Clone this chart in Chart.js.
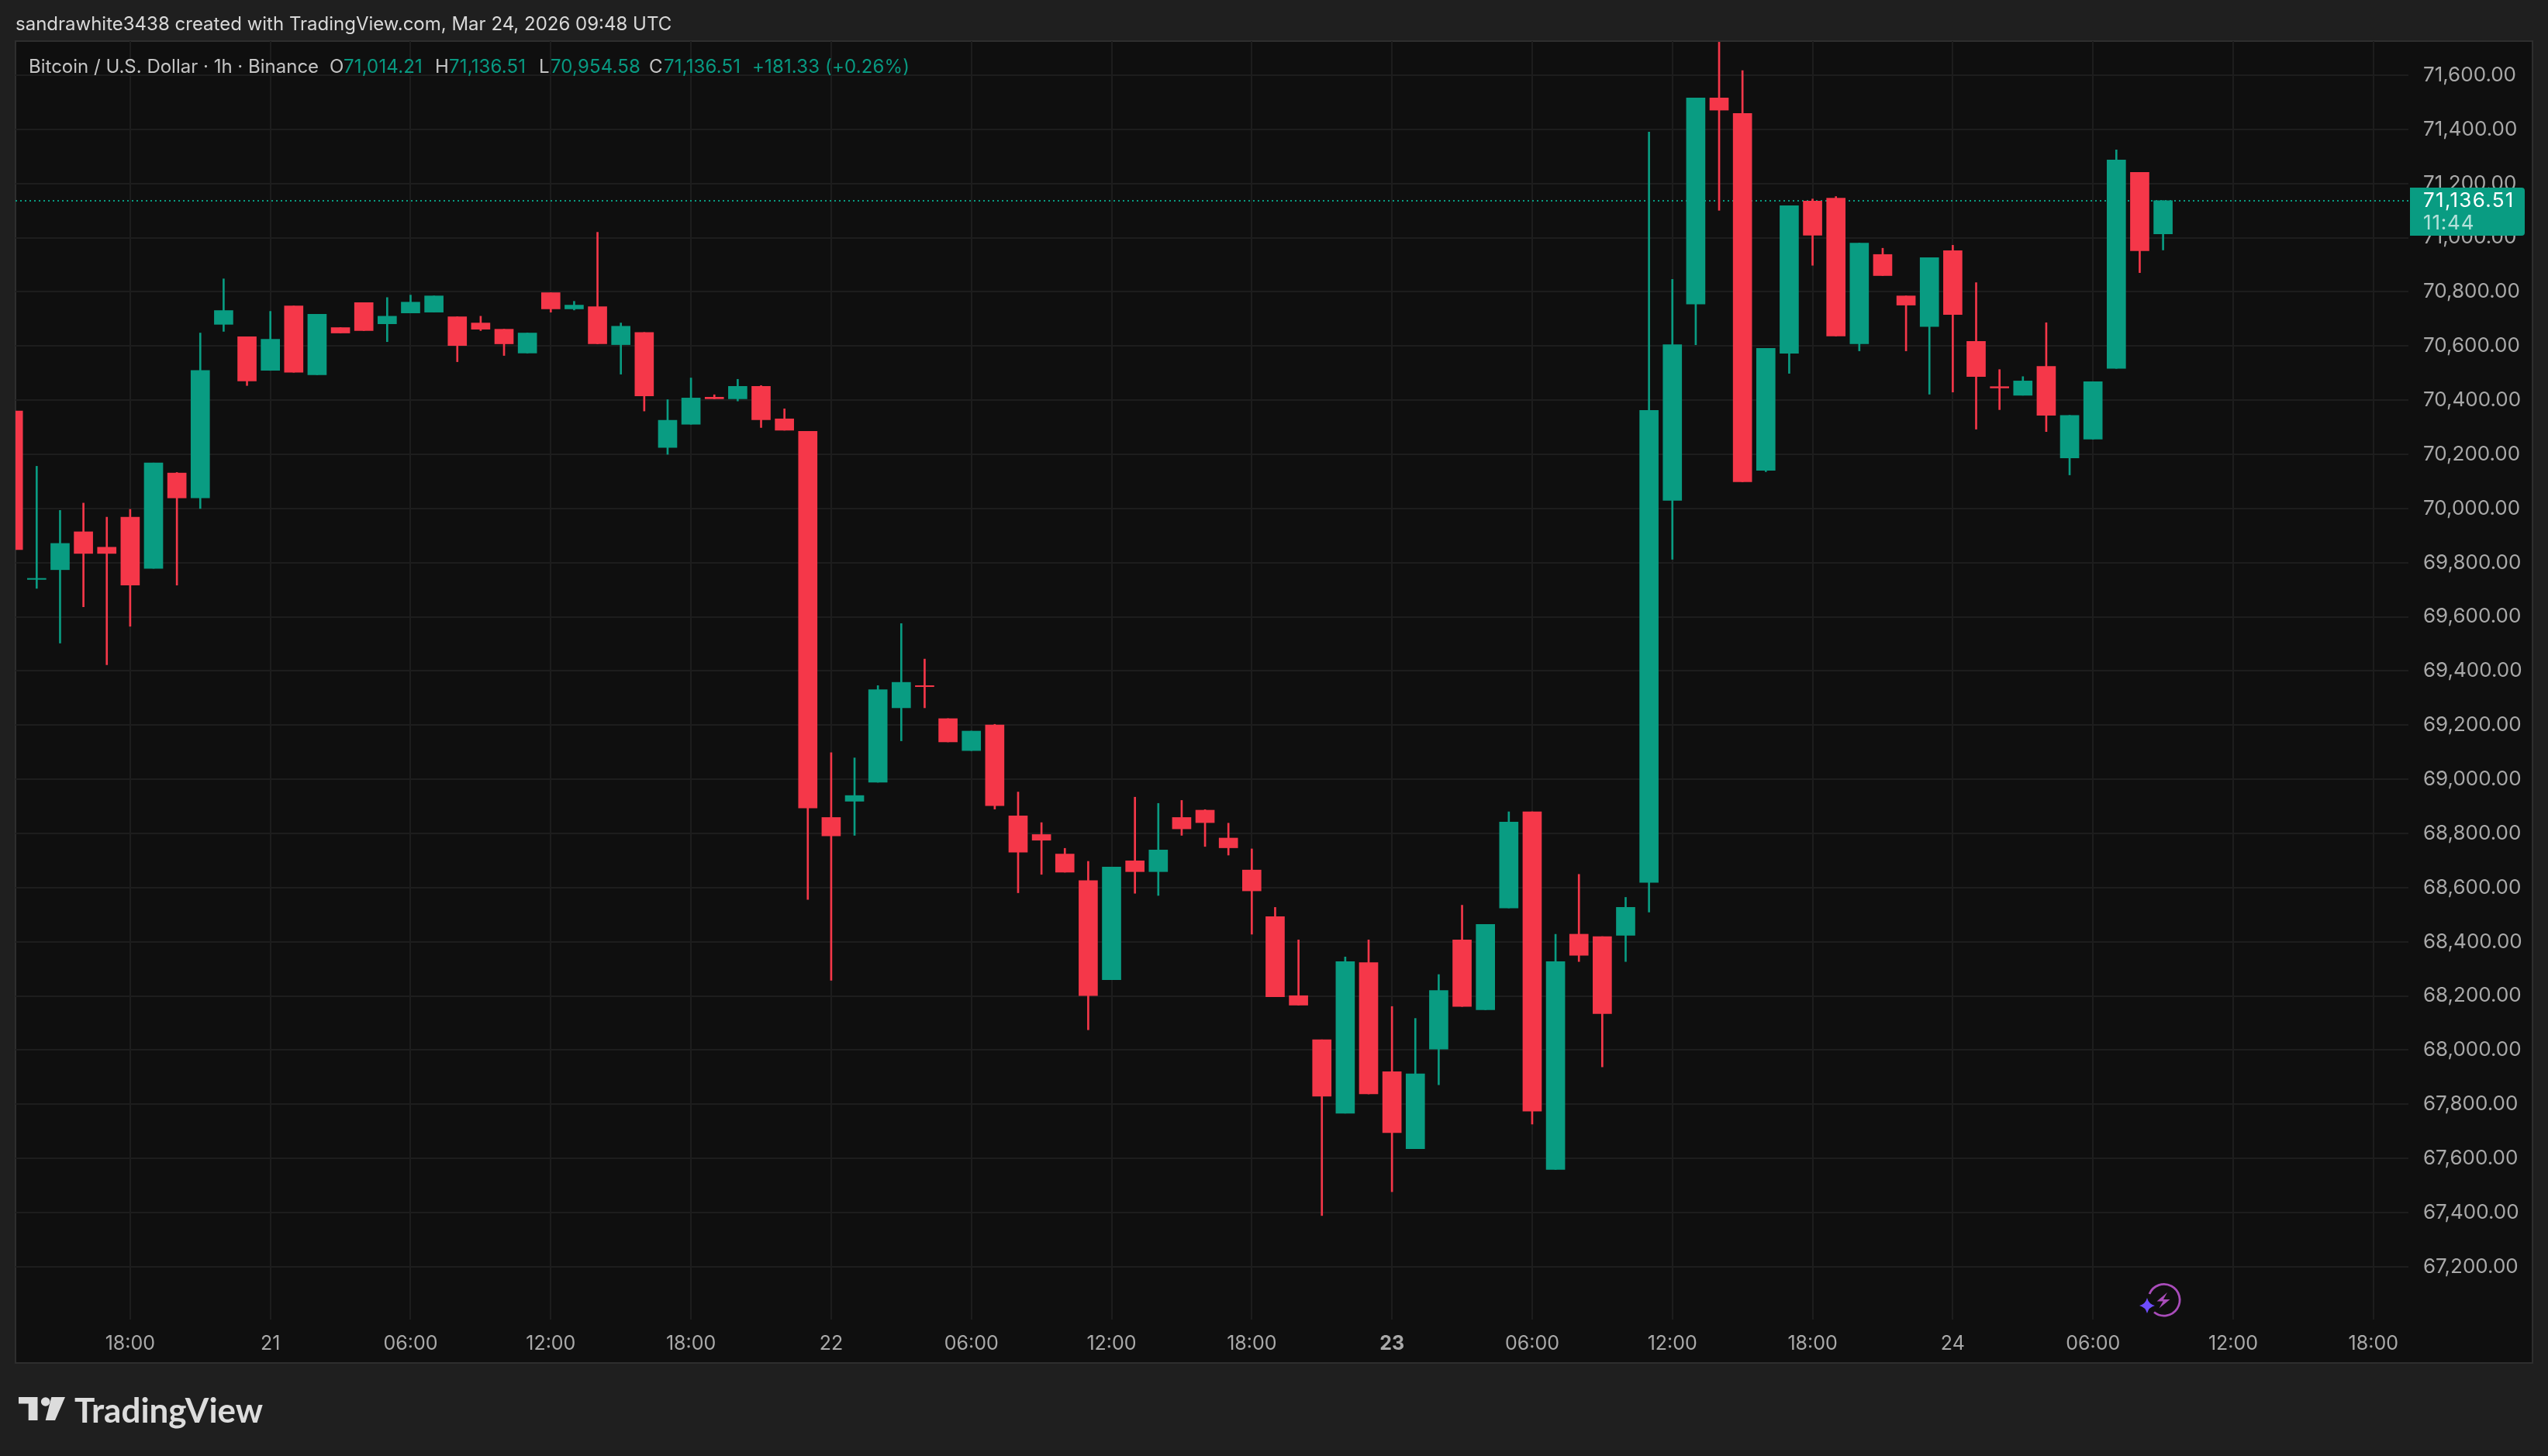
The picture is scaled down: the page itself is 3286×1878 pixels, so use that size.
<!DOCTYPE html>
<html>
<head>
<meta charset="utf-8">
<title>BTCUSD 1h</title>
<script src="https://cdn.jsdelivr.net/npm/chart.js@4"></script>
<style>
html, body { margin: 0; padding: 0; background: #1f1f1f; width: 3286px; height: 1878px; overflow: hidden; }
body { font-family: Inter, sans-serif; position: relative; }
#pane { position: absolute; left: 19px; top: 52px; width: 3244px; height: 1703px; background: #0f0f0f; border: 2px solid #2e2e2e; }
#chart { position: absolute; left: 0; top: 0; }
.t { position: absolute; white-space: nowrap; font-size: 24px; line-height: 30px; }
.grey { color: #c4c4c4; }
.up { color: #089981; letter-spacing: 0.15px; }
svg { position: absolute; }
</style>
</head>
<body>
<div id="pane"></div>
<canvas id="chart" width="3286" height="1878"></canvas>

<div class="t" style="left:20px;top:16px;color:#d8d8d8">sandrawhite3438 created with TradingView.com, Mar 24, 2026 09:48 UTC</div>
<div class="t grey" style="left:37px;top:71px">Bitcoin / U.S. Dollar · 1h · Binance</div>
<div class="t grey" style="left:425px;top:71px">O</div>
<div class="t up" style="left:443px;top:71px">71,014.21</div>
<div class="t grey" style="left:561px;top:71px">H</div>
<div class="t up" style="left:579px;top:71px">71,136.51</div>
<div class="t grey" style="left:695px;top:71px">L</div>
<div class="t up" style="left:710px;top:71px">70,954.58</div>
<div class="t grey" style="left:837px;top:71px">C</div>
<div class="t up" style="left:856px;top:71px">71,136.51</div>
<div class="t up" style="left:970px;top:71px">+181.33 (+0.26%)</div>

<svg style="left:0;top:1780px" width="100" height="70" viewBox="0 1780 100 70">
  <path fill="#dcdcdc" d="M24 1802 H48.5 V1832 H36.7 V1810.5 H24 Z"/>
  <circle fill="#dcdcdc" cx="58.7" cy="1808" r="5.8"/>
  <path fill="#dcdcdc" d="M66.3 1802 H84 L71 1832 H58.7 Z"/>
</svg>
<div class="t" style="left:96px;top:1793px;font-family:Lato;font-weight:700;font-size:44px;line-height:50px;color:#dcdcdc">TradingView</div>

<svg style="left:2740px;top:1640px" width="100" height="70" viewBox="0 0 100 70">
  <path fill="none" stroke="#a94cba" stroke-width="2.8" d="M32 29 A20.3 20.3 0 1 1 38 52.5"/>
  <path fill="#a94cba" d="M55 27 L41.5 38.5 H49.5 L44.5 47.5 L58.5 36 H50 Z"/>
  <path fill="#6e4dff" d="M29 34 Q31 42 39 44 Q31 46 29 54 Q27 46 19 44 Q27 42 29 34 Z"/>
</svg>

<script>
// BTCUSD 1h bars, first one is Mar 20 13:00, last one Mar 24 09:00
const opens = [70360,69738,69774,69914,69857,69968,69779,70131,70039,70680,70634,70510,70748,70494,70668,70760,70682,70722,70725,70708,70685,70662,70574,70797,70737,70745,70605,70650,70225,70311,70411,70405,70451,70331,70285,68859,68919,68989,69264,69346,69224,69106,69201,68865,68796,68724,68626,68260,68699,68659,68859,68886,68783,68665,68493,68201,68038,67767,68323,67920,67636,68004,68407,68149,68525,68880,67559,68428,68419,68424,68619,70030,70755,71516,71459,70141,70573,71135,71146,70608,70938,70785,70672,70952,70617,70450,70418,70525,70187,70256,70517,71241,71014.21];
const highs = [70360,70156,69993,70020,69968,69997,70168,70133,70648,70848,70634,70728,70748,70717,70668,70760,70779,70788,70785,70708,70710,70662,70648,70797,70765,71020,70685,70650,70402,70482,70420,70477,70454,70368,70285,69098,69079,69346,69575,69444,69224,69178,69203,68953,68840,68745,68697,68676,68934,68911,68922,68888,68838,68743,68527,68407,68038,68344,68407,68161,68117,68279,68535,68464,68880,68880,68428,68649,68419,68564,71390,70846,71516,71722,71617,70591,71118,71143,71152,70980,70961,70785,70926,70972,70834,70513,70487,70686,70344,70468,71324,71241,71136.51];
const lows = [69848,69705,69503,69637,69423,69565,69779,69717,70000,70654,70454,70510,70503,70494,70648,70657,70616,70722,70725,70542,70657,70565,70574,70725,70733,70608,70496,70360,70200,70311,70405,70397,70299,70289,68556,68258,68793,68989,69142,69264,69138,69106,68890,68581,68649,68657,68075,68260,68579,68571,68793,68752,68720,68428,68197,68166,67389,67767,67838,67477,67636,67872,68161,68149,68525,67727,67559,68327,67938,68327,68510,69812,70605,71101,70099,70136,70499,70898,70637,70582,70860,70582,70422,70430,70293,70365,70418,70284,70124,70256,70517,70871,70954.58];
const closes = [69848,69742,69871,69834,69834,69717,70168,70039,70510,70731,70471,70625,70503,70717,70648,70657,70710,70762,70785,70602,70662,70608,70648,70737,70751,70608,70673,70416,70326,70408,70405,70451,70328,70289,68894,68791,68940,69331,69358,69342,69138,69178,68903,68731,68775,68657,68201,68676,68659,68739,68817,68840,68747,68588,68197,68166,67830,68327,67838,67695,67912,68220,68161,68464,68842,67775,68327,68350,68135,68527,70362,70605,71516,71471,70099,70591,71118,71009,70637,70980,70860,70751,70926,70716,70487,70445,70471,70344,70344,70468,71287,70952,71136.51];

const lastPrice = 71136.51;
const lastPriceText = '71,136.51';
const countdownText = '11:44';

const xTickIndex = [5,11,17,23,29,35,41,47,53,59,65,71,77,83,89,95,101];
const xTickLabels = ['18:00','21','06:00','12:00','18:00','22','06:00','12:00','18:00','23','06:00','12:00','18:00','24','06:00','12:00','18:00'];
const yTickValues = [67200,67400,67600,67800,68000,68200,68400,68600,68800,69000,69200,69400,69600,69800,70000,70200,70400,70600,70800,71000,71200,71400,71600];

const UP = '#099c82';
const DOWN = '#f53749';
const GRID = '#1d1d1d';
const LABEL = '#a9a9a9';
const AXIS_FONT = 'Inter';

const X_MIN = 0.093;
const X_MAX = 102.5;
const Y_MIN = 67005;
const Y_MAX = 71726;

const barColors = closes.map((c, i) => c >= opens[i] ? UP : DOWN);

// price tag at the right, sits on top of the axis labels
const priceTag = {
    id: 'priceTag',
    afterDraw(chart) {
        const ctx = chart.ctx;
        const y = chart.scales.y.getPixelForValue(lastPrice);
        ctx.save();
        ctx.fillStyle = UP;
        ctx.beginPath();
        ctx.roundRect(3108, y - 17, 148, 62, [0, 4, 4, 0]);
        ctx.fill();
        ctx.font = '26px ' + AXIS_FONT;
        ctx.textBaseline = 'middle';
        ctx.letterSpacing = '1.3px';
        ctx.fillStyle = '#ffffff';
        ctx.fillText(lastPriceText, 3125, y);
        ctx.letterSpacing = '0.8px';
        ctx.fillStyle = 'rgba(255,255,255,0.7)';
        ctx.fillText(countdownText, 3125, y + 29);
        ctx.restore();
    }
};

new Chart(document.getElementById('chart').getContext('2d'), {
    type: 'bar',
    data: {
        datasets: [
            {
                label: 'body',
                order: 1,
                grouped: false,
                barThickness: 24,
                backgroundColor: barColors,
                data: opens.map((o, i) => ({ x: i, y: [o, closes[i]] }))
            },
            {
                label: 'wick',
                order: 2,
                grouped: false,
                barThickness: 2,
                backgroundColor: barColors,
                data: highs.map((h, i) => ({ x: i, y: [lows[i], h] }))
            },
            {
                type: 'line',
                label: 'last',
                order: 3,
                borderColor: UP,
                borderWidth: 2,
                borderDash: [2, 4],
                pointRadius: 0,
                data: [{ x: X_MIN, y: lastPrice }, { x: X_MAX, y: lastPrice }]
            }
        ]
    },
    options: {
        responsive: false,
        animation: false,
        devicePixelRatio: 1,
        layout: { padding: { left: 20, top: 53, right: 20, bottom: 121 } },
        plugins: { legend: { display: false }, tooltip: { enabled: false } },
        scales: {
            x: {
                type: 'linear',
                offset: false,
                min: X_MIN,
                max: X_MAX,
                grid: { offset: false, color: GRID, lineWidth: 2, drawTicks: false },
                border: { display: false },
                afterBuildTicks: scale => { scale.ticks = xTickIndex.map(v => ({ value: v })); },
                afterFit: scale => { scale.height = 55; },
                ticks: {
                    autoSkip: false,
                    maxRotation: 0,
                    padding: 16,
                    color: LABEL,
                    font: ctx => ({ family: AXIS_FONT, size: 25, weight: ctx.tick && ctx.tick.value === 59 ? '700' : '400' }),
                    callback: value => xTickLabels[xTickIndex.indexOf(value)]
                }
            },
            y: {
                position: 'right',
                min: Y_MIN,
                max: Y_MAX,
                grid: { color: GRID, lineWidth: 2, drawTicks: false },
                border: { display: false },
                afterBuildTicks: scale => { scale.ticks = yTickValues.map(v => ({ value: v })); },
                afterFit: scale => { scale.width = 160; },
                ticks: {
                    autoSkip: false,
                    crossAlign: 'near',
                    padding: 19,
                    color: LABEL,
                    font: { family: AXIS_FONT, size: 26 },
                    callback: value => value.toLocaleString('en-US', { minimumFractionDigits: 2, maximumFractionDigits: 2 })
                }
            }
        }
    },
    plugins: [priceTag]
});
</script>
</body>
</html>
